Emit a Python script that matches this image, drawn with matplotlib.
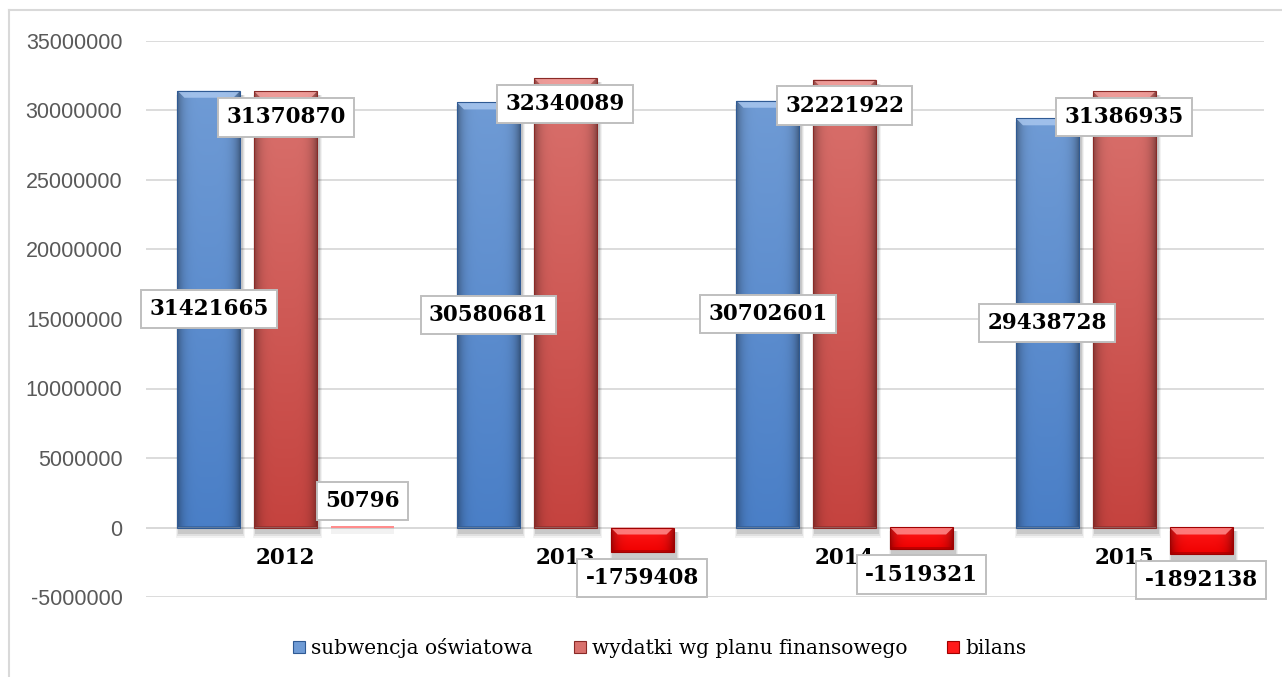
import numpy as np
import matplotlib
matplotlib.use("Agg")
import matplotlib.pyplot as plt
from matplotlib.patches import Rectangle, Polygon
from matplotlib.lines import Line2D
from matplotlib.ticker import FuncFormatter, MultipleLocator
from matplotlib.colors import to_rgb

years = ["2012", "2013", "2014", "2015"]
subwencja = [31421665, 30580681, 30702601, 29438728]
wydatki = [31370870, 32340089, 32221922, 31386935]
bilans = [50796, -1759408, -1519321, -1892138]
series_names = ["subwencja oświatowa", "wydatki wg planu finansowego", "bilans"]

# top, bottom, edge, bevel colours for each series
styles = [
    ("#6f9bd5", "#4a7fc7", "#2f5a94", "#a8c6ee"),
    ("#d9716d", "#c5433f", "#8a2a27", "#f2a3a0"),
    ("#ff1a1a", "#f00000", "#a00000", "#ff8c8c"),
]

W, H, DPI = 1282, 677, 100
fig = plt.figure(figsize=(W / DPI, H / DPI), dpi=DPI)
ax_rect = [146 / W, 1 - 597 / H, (1264 - 146) / W, (597 - 41) / H]
ax = fig.add_axes(ax_rect)

ymin, ymax = -5e6, 35e6
px_x = 4 / (ax_rect[2] * W)              # data units per pixel, x
px_y = (ymax - ymin) / (ax_rect[3] * H)  # data units per pixel, y

serif = ["DejaVu Serif"]
offsets = [-0.275, 0.0, 0.275]
width = 0.225
x = np.arange(len(years))


def fancy_bar(xc, val, style):
    top, bot, edge, bevel = [np.array(to_rgb(c)) for c in style]
    x0 = xc - width / 2
    y0, y1 = min(0, val), max(0, val)
    h = y1 - y0
    rect = Rectangle((x0, y0), width, h, fc="none", ec=edge, lw=0.8, zorder=3)
    ax.add_patch(rect)
    if h > 2 * px_y:
        # soft shadow
        for k, a in enumerate([0.10, 0.07, 0.05]):
            g = (k + 1) * 2
            ax.add_patch(Rectangle((x0 + 2 * px_x - g * px_x * 0.5, y0 - (4 + g) * px_y),
                                   width + g * px_x, h + g * px_y,
                                   fc="black", ec="none", alpha=a, zorder=1.5))
        t = np.linspace(0, 1, 64)[:, None]
        col = top[None, :] * (1 - t) + bot[None, :] * t
        xs = np.linspace(0, 1, 64)
        f = 1 - 0.35 * np.abs(2 * xs - 1) ** 5
        img = np.clip(col[:, None, :] * f[None, :, None], 0, 1)
        im = ax.imshow(img, extent=[x0, x0 + width, y0, y1], aspect="auto",
                       origin="upper", zorder=2, interpolation="bilinear")
        im.set_clip_path(rect)
        b = 7
        bx, by = b * px_x, min(b * px_y, h / 3)
        ax.add_patch(Polygon([(x0, y1), (x0 + width, y1),
                              (x0 + width - bx, y1 - by), (x0 + bx, y1 - by)],
                             closed=True, fc=bevel, ec="none", alpha=0.85, zorder=2.5))
        ax.add_patch(Rectangle((x0, y0), width, 2 * px_y, fc=edge, ec="none",
                               alpha=0.6, zorder=2.5))
    else:
        rect.set_facecolor(bevel)
        rect.set_edgecolor("none")
        rect.set_height(max(h, 2 * px_y))
        ax.add_patch(Rectangle((x0, y0 - 6 * px_y), width, 6 * px_y,
                               fc="black", ec="none", alpha=0.05, zorder=1.5))


box = dict(boxstyle="square,pad=0.38", fc="white", ec="#bfbfbf", lw=1.4)
lab_kw = dict(ha="center", va="center", fontsize=15.5, fontweight="bold",
              family=serif, bbox=box, zorder=6, textcoords="offset points")
off = 26 * 72 / DPI

for i in range(len(years)):
    fancy_bar(x[i] + offsets[0], subwencja[i], styles[0])
    fancy_bar(x[i] + offsets[1], wydatki[i], styles[1])
    fancy_bar(x[i] + offsets[2], bilans[i], styles[2])
    ax.annotate(str(subwencja[i]), (x[i] + offsets[0], subwencja[i] / 2),
                xytext=(0, 0), **lab_kw)
    ax.annotate(str(wydatki[i]), (x[i] + offsets[1], wydatki[i]),
                xytext=(0, -off), **lab_kw)
    ax.annotate(str(bilans[i]), (x[i] + offsets[2], bilans[i]),
                xytext=(0, off if bilans[i] > 0 else -off), **lab_kw)
    ax.annotate(years[i], (x[i], 0), xytext=(0, -30 * 72 / DPI),
                textcoords="offset points", ha="center", va="center",
                fontsize=15.5, fontweight="bold", family=serif, zorder=5)

ax.set_xlim(-0.5, 3.5)
ax.set_ylim(ymin, ymax)
ax.yaxis.set_major_locator(MultipleLocator(5e6))
ax.yaxis.set_major_formatter(FuncFormatter(lambda v, p: "%d" % v))
ax.grid(axis="y", color="#d9d9d9", lw=1.3, zorder=0)
ax.set_axisbelow(True)
ax.set_xticks([])
for s in ax.spines.values():
    s.set_visible(False)
ax.axhline(0, color="#d9d9d9", lw=1.3, zorder=1)
ax.tick_params(axis="y", length=0, pad=17, labelsize=15.5, labelcolor="#595959")
for t in ax.get_yticklabels():
    t.set_family("Liberation Sans")

# legend with small square swatches
handles = [Rectangle((0, 0), 1, 1, fc=s[0], ec=s[2], lw=0.8) for s in styles]
fig.legend(handles, series_names, loc="center", ncol=3,
           bbox_to_anchor=(660 / W, 1 - 648 / H), frameon=False,
           prop={"family": serif, "size": 14.5},
           handlelength=0.6, handleheight=0.6, handletextpad=0.3,
           columnspacing=2.0)

# chart frame (top and left edges visible)
fig.add_artist(Line2D([9 / W, 1], [1 - 10 / H] * 2, transform=fig.transFigure,
                      color="#d9d9d9", lw=1.5))
fig.add_artist(Line2D([9 / W] * 2, [0, 1 - 10 / H], transform=fig.transFigure,
                      color="#d9d9d9", lw=1.5))

fig.savefig("out.png", dpi=DPI, facecolor="white")
